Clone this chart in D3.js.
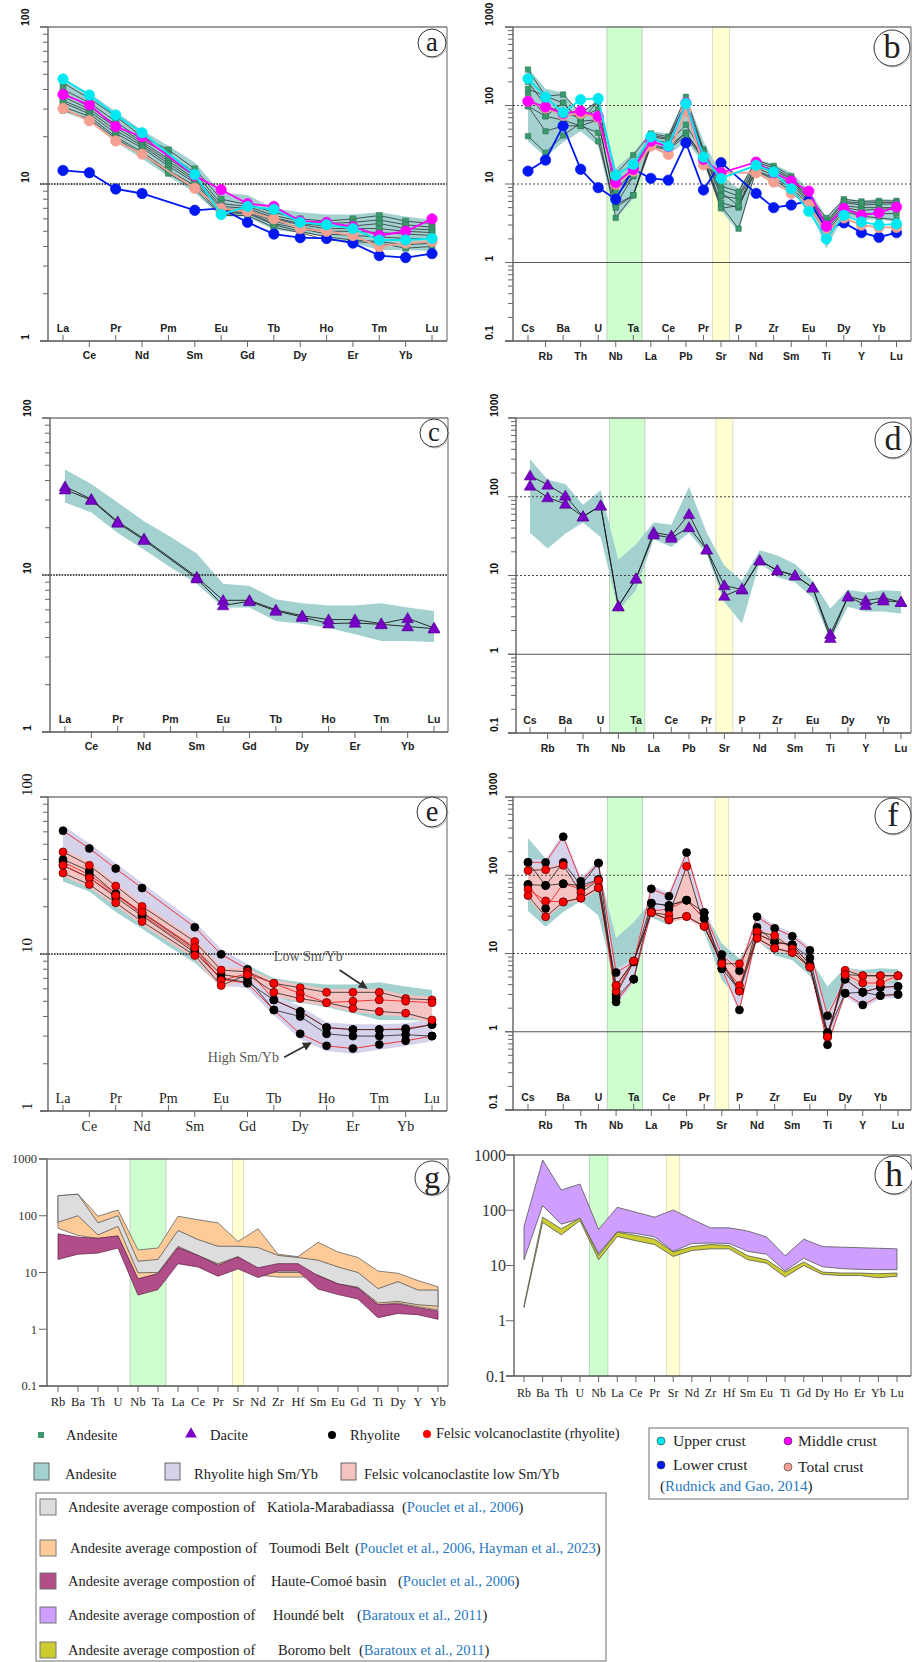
<!DOCTYPE html>
<html>
<head>
<meta charset="utf-8">
<script src="https://cdn.jsdelivr.net/npm/d3@7"></script>
<style>
  body { margin: 0; background: #fff; }
  svg { display: block; }
</style>
</head>
<body>
<script>
// ---- element lists ----
const reeElements = ['La', 'Ce', 'Pr', 'Nd', 'Pm', 'Sm', 'Eu', 'Gd', 'Tb', 'Dy', 'Ho', 'Er', 'Tm', 'Yb', 'Lu'];
const spiderElements = ['Cs', 'Rb', 'Ba', 'Th', 'U', 'Nb', 'Ta', 'La', 'Ce', 'Pb', 'Pr', 'Sr', 'P', 'Nd', 'Zr', 'Sm', 'Eu', 'Ti', 'Dy', 'Y', 'Yb', 'Lu'];
const gElements = ['Rb', 'Ba', 'Th', 'U', 'Nb', 'Ta', 'La', 'Ce', 'Pr', 'Sr', 'Nd', 'Zr', 'Hf', 'Sm', 'Eu', 'Gd', 'Ti', 'Dy', 'Y', 'Yb'];
const hElements = ['Rb', 'Ba', 'Th', 'U', 'Nb', 'La', 'Ce', 'Pr', 'Sr', 'Nd', 'Zr', 'Hf', 'Sm', 'Eu', 'Ti', 'Gd', 'Dy', 'Ho', 'Er', 'Yb', 'Lu'];

// ---- andesite field (teal envelope) ----
const andesiteReeHi = [47, 38, 29, 22, 17.5, 13.7, 8.8, 8.5, 7.0, 6.6, 6.4, 6.4, 6.6, 6.2, 5.9];
const andesiteReeLo = [29, 25, 18.5, 14.5, 11.2, 8.8, 6.2, 6.2, 5.1, 4.9, 4.6, 4.2, 3.8, 3.8, 3.75];
const andesiteSpiderHi = [300, 164, 145, 79, 121, 15.8, 25, 47, 44, 134, 35, 13.4, 8.6, 21, 17.9, 14, 8.6, 3.8, 6.6, 6.1, 6.5, 6.3];
const andesiteSpiderLo = [35, 22, 34, 47, 30.6, 3.6, 6.5, 29, 23, 35, 18.8, 4.6, 2.45, 14.7, 9.5, 8.2, 5.2, 1.5, 4.0, 3.5, 3.5, 3.3];

// ---- andesite samples ----
const andesiteRee = [
  [44, 35, 27, 20, 16.5, 12.5, 8.0, 7.4, 6.6, 6.0, 5.8, 6.0, 6.3, 5.8, 5.6],
  [40, 33, 25, 19, 15.5, 11.8, 7.5, 7.2, 6.3, 5.8, 5.6, 5.7, 5.9, 5.5, 5.3],
  [38, 31, 24, 18.5, 14.5, 11.2, 7.2, 7.0, 6.1, 5.6, 5.4, 5.4, 5.6, 5.2, 5.1],
  [36, 30, 23, 18, 14, 10.8, 7.0, 6.8, 6.0, 5.5, 5.2, 5.2, 5.2, 5.0, 4.9],
  [34, 29, 22, 17.5, 13.5, 10.5, 6.8, 6.7, 5.8, 5.3, 5.0, 5.0, 4.9, 4.8, 4.7],
  [33, 28, 21, 17, 13, 10.2, 6.6, 6.6, 5.6, 5.2, 4.8, 4.7, 4.6, 4.5, 4.5],
  [31, 27, 20, 16, 12.2, 9.8, 6.4, 6.5, 5.5, 5.0, 4.6, 4.4, 4.3, 4.1, 4.2],
  [29.5, 26, 19.5, 15.5, 11.7, 9.3, 6.3, 6.3, 5.3, 4.9, 4.4, 4.3, 4.2, 3.9, 4.0]
];
const andesiteSpider = [
  [287, 131, 138, 80, 113, 13.3, 23.4, 44, 40, 129, 27.6, 9.4, 8.0, 20, 17, 12.6, 7.0, 3.7, 6.4, 6.0, 6.1, 6.1],
  [163, 131, 108, 63, 113, 7.0, 12.6, 40, 37, 100, 25, 7.8, 5.3, 18, 15, 11.5, 6.4, 3.1, 5.8, 5.4, 5.5, 5.6],
  [140, 73, 108, 63, 66, 5.4, 12.6, 38, 33, 57, 24, 7.0, 6.5, 17, 14, 10.9, 6.0, 3.0, 5.3, 5.0, 5.0, 5.0],
  [98, 73, 65, 55, 66, 5.4, 7.2, 35, 30, 45, 22, 5.8, 5.0, 16, 13, 10, 5.8, 2.8, 5.0, 4.6, 4.8, 4.8],
  [98, 47, 55, 55, 45, 3.7, 7.2, 32, 28, 45, 21, 5.3, 2.7, 15, 12, 9, 5.5, 2.6, 4.8, 4.2, 4.2, 4.2],
  [40.7, 25, 41.5, 60, 35, 5.0, 7.2, 30, 27.6, 41, 20.6, 4.9, 5.3, 14.6, 11.5, 8.2, 5.3, 2.4, 4.5, 3.9, 3.7, 3.5],
  [200, 100, 80, 70, 90, 8, 15, 42, 38, 110, 26, 8.5, 7, 19, 16, 11.8, 6.6, 3.3, 6.0, 5.7, 5.8, 5.8]
];

// ---- crust reference (Rudnick and Gao, 2014) ----
const upperCrustRee = [46.7, 36.9, 27.5, 21.2, null, 11.5, 6.4, 7.2, 6.9, 5.7, 5.5, 5.2, 4.4, 4.4, 4.5];
const middleCrustRee = [37.2, 31.9, 23.2, 20, null, 11.3, 9.2, 7.5, 7.2, 5.8, 5.7, 5.35, 4.7, 5.0, 6.0];
const lowerCrustRee = [12.2, 11.8, 9.3, 8.7, null, 6.8, 7.0, 5.7, 4.8, 4.55, 4.5, 4.2, 3.5, 3.4, 3.6];
const totalCrustRee = [30.3, 25.3, 18.8, 15.5, null, 9.4, 7.0, 6.7, 6.0, 5.2, 5.0, 4.7, 4.0, 4.2, 4.3];
const upperCrustSpider = [220, 128, 81, 119, 123, 12.9, 17.8, 40, 30.4, 106, 22, 11.8, null, 17.3, 14.2, 8.7, 4.5, 2.0, 4.0, 3.3, 3.0, 3.1];
const middleCrustSpider = [113, 96, 79, 85, 73, 10.4, 15.4, 35, 30, 108, 20.6, 13.9, null, 19, 13.9, 10.9, 8.1, 2.9, 4.9, 4.0, 4.3, 5.1];
const lowerCrustSpider = [14.6, 20.2, 55, 15.4, 9.0, 6.4, 15.4, 11.8, 11.2, 33.5, 8.4, 18.7, null, 7.6, 5.0, 5.4, 6.1, 2.65, 3.2, 2.4, 2.1, 2.4];
const totalCrustSpider = [113, 93, 75, 79, 70, 9.9, 14.6, 30.4, 23.8, 85, 17.5, 13.9, null, 13.9, 10.6, 7.6, 5.5, 2.45, 3.7, 3.0, 2.8, 2.8];

// ---- dacite ----
const daciteRee = [
  [36.6, 30.4, 21.9, 17, null, 9.7, 6.9, 6.9, 6.0, 5.5, 5.2, 5.2, 4.9, 5.3, 4.6],
  [35, 30, 21.5, 16.7, null, 9.5, 6.4, 6.8, 5.9, 5.4, 4.9, 4.95, 4.85, 4.7, 4.55]
];
const daciteSpider = [
  [185, 142, 103, 56, 77, 4.05, 9.1, 35.4, 32, 60, 21.3, 7.5, 6.6, 15.5, 11.6, 10, 7.0, 1.8, 5.4, 4.8, 5.2, 4.6],
  [138, 98, 81, 56, 77, 4.05, 9.1, 33, 30, 41, 21.3, 5.5, 6.8, 15.5, 11.6, 10, 7.0, 1.6, 5.4, 4.2, 4.8, 4.6]
];

// ---- rhyolite (high Sm/Yb) and felsic volcanoclastite (low Sm/Yb) ----
const rhyoliteRee = [
  [61, 47, 35, 26.3, null, 14.8, 9.95, 8.0, 5.1, 4.3, 3.4, 3.3, 3.3, 3.35, 3.55],
  [40, 33.8, 24.2, 18.3, null, 10.8, 7.4, 7.0, 4.4, 4.0, 3.1, 3.0, 3.0, 3.06, 3.0],
  [38.5, 32, 24.2, 17.8, null, 10.5, 6.9, 6.5, 4.4, 3.1, 2.6, 2.5, 2.65, 2.8, 3.0],
  [36.7, 30.6, 23, 17.5, null, 10.2, 7.0, 6.6, 5.1, 4.3, 3.4, 3.3, 3.3, 3.3, 3.55]
];
const felsicRee = [
  [44.7, 36.7, 27.1, 20.1, null, 12.0, 7.9, 7.7, 6.5, 6.1, 5.7, 5.7, 5.7, 5.2, 5.1],
  [36.7, 30.5, 23.6, 18.5, null, 11, 6.8, 7.5, 6.5, 5.6, 4.9, 5.0, 5.1, 5.0, 4.9],
  [32.8, 27.7, 21.2, 16.1, null, 9.8, 6.3, 7.4, 5.7, 5.2, 4.9, 4.5, 4.3, 4.2, 3.8]
];
const rhyoliteSpider = [
  [146, 146, 311, 84, 143, 5.7, 7.8, 67, 54, 195, 33.4, 9.7, 6.0, 29.5, 21, 16.6, 11, 1.6, 4.7, 3.2, 3.7, 3.8],
  [146, 74, 146, 74, 88, 3.0, 7.8, 43.9, 41, 48, 28, 8, 3.4, 21.6, 14, 12.9, 8.8, 0.97, 4.7, 3.2, 3.7, 3.8],
  [76, 37.6, 78, 67, 88, 2.4, 4.7, 35, 36.8, 48, 28, 6.4, 1.9, 17.8, 14, 12.9, 7.2, 0.68, 3.1, 2.2, 2.9, 3.0],
  [76, 74, 78, 74, 143, 2.7, 4.7, 43.9, 41, 48, 33.4, 6.4, 3.4, 17.8, 14, 12.9, 7.2, 0.97, 3.1, 3.2, 2.9, 3.0]
];
const felsicSpider = [
  [115, 118, 134, 60, 86, 3.9, 8.0, 33.4, 31, 130, 22.3, 7.4, 7.4, 19, 17, 11.5, 6.7, 0.86, 6.1, 5.2, 5.2, 5.2],
  [66, 47, 45.6, 51, 69, 3.3, 8.0, 33.4, 27, 29.8, 22.3, 7.4, 3.9, 15.7, 11.7, 10.3, 6.7, 0.86, 5.4, 4.2, 4.2, 5.2],
  [55, 29.5, 45.6, 51, 69, 3.9, 8.0, 33.4, 27, 29.8, 22.3, 7.4, 3.3, 15.7, 11.7, 10.3, 6.7, 0.86, 5.4, 5.2, 5.2, 5.2]
];

// ---- panel g: literature andesite averages ----
const katiolaHi = [225, 240, 75, 100, 15.8, 17, 55, 38, 29, 29, 27.5, 20, 18.4, 16.5, 12.5, 10, 5.2, 6.9, 4.9, 4.9];
const katiolaLo = [77, 100, 46, 65, 9.9, 10, 29, 20, 14.3, 19, 11.6, 10, 10, 9, 6.3, 5.5, 2.9, 3.1, 2.7, 2.55];
const toumodiHi = [225, 240, 98, 126, 25, 27, 98, 85, 75, 35, 59, 21, 19, 34, 23, 18.4, 10.6, 9.7, 7.2, 5.6];
const toumodiLo = [60, 45, 40, 44, 7.7, 9.5, 27, 20, 13.4, 12, 9, 8.3, 8.3, 8.5, 6.3, 5.3, 2.7, 2.9, 2.5, 2.2];
const comoeHi = [48, 42, 40, 44, 7.7, 9.5, 27.4, 20, 13.4, 18.8, 12.1, 14.3, 14.3, 8.8, 6.3, 5.3, 2.7, 2.8, 2.4, 2.1];
const comoeLo = [17, 21, 22, 27, 4.0, 5.0, 14.3, 12.5, 8.6, 11.6, 8.2, 10.6, 10.6, 5.1, 4.1, 3.4, 1.6, 1.9, 1.8, 1.5];

// ---- panel h ----
const houndeHi = [51, 810, 232, 298, 45, 113, 92, 75, 101, 69, 48, 48, 42, 33, 15, 30, 22, 21.5, 21, 20.5, 20];
const houndeLo = [12.7, 121, 56, 70, 16.4, 41, 38, 33, 18, 25, 25.5, 25, 18, 16, 8, 13.5, 9.5, 8.8, 8.5, 8.4, 8.4];
const boromoHi = [1.9, 75, 46, 72, 15.2, 40, 35, 30, 17.5, 22, 24, 23, 15, 12.7, 7.6, 11.6, 7.6, 7.3, 7.3, 7.1, 7.3];
const boromoLo = [1.74, 60, 36, 65, 12.7, 33.5, 28, 24, 14.6, 18.7, 20, 20, 12.7, 11, 6.2, 10, 6.9, 6.6, 6.6, 6.0, 6.4];

// ---- colours ----
const TEAL = '#a2d1d0', LAVENDER = '#d5d3ec', PINK = '#f6c3c3';
const GREEN_BAND = '#cfffcf', YELLOW_BAND = '#ffffd2';
const SANS = '"Liberation Sans Narrow","Liberation Sans",Arial,sans-serif';
const SERIF = '"Liberation Serif","DejaVu Serif",serif';

const svg = d3.select('body').append('svg').attr('width', 912).attr('height', 1662);

function makePanel(cfg) {
  const g = svg.append('g');
  const x = d3.scalePoint().domain(cfg.elements).range(cfg.xRange);
  const y = d3.scaleLog().domain(cfg.yDomain).range([cfg.bottom, cfg.top]);
  return { g, x, y, cfg };
}

function drawBands(p, greenFrom, greenTo, gPad, yellowAt, yPad) {
  const step = p.x.step();
  p.g.append('rect')
    .attr('x', p.x(greenFrom) - gPad * step).attr('y', p.cfg.top)
    .attr('width', p.x(greenTo) - p.x(greenFrom) + 2 * gPad * step)
    .attr('height', p.cfg.bottom - p.cfg.top)
    .attr('fill', GREEN_BAND).attr('stroke', '#b5c8b5').attr('stroke-width', 0.8);
  p.g.append('rect')
    .attr('x', p.x(yellowAt) - yPad * step).attr('y', p.cfg.top)
    .attr('width', 2 * yPad * step)
    .attr('height', p.cfg.bottom - p.cfg.top)
    .attr('fill', YELLOW_BAND).attr('stroke', '#d8d8b8').attr('stroke-width', 0.8);
}

function drawField(p, hi, lo, fill, stroke) {
  const rows = p.cfg.elements.map((e, i) => ({ e, hi: hi[i], lo: lo[i] }));
  const area = d3.area().x(d => p.x(d.e)).y0(d => p.y(d.lo)).y1(d => p.y(d.hi));
  p.g.append('path').attr('d', area(rows)).attr('fill', fill)
    .attr('stroke', stroke || 'none').attr('stroke-width', 0.8);
}

// envelope of a sample group, a little wider than the samples
function envelope(samples, pad) {
  const hi = samples[0].map((_, i) => d3.max(samples, s => s[i]) * pad);
  const lo = samples[0].map((_, i) => d3.min(samples, s => s[i]) / pad);
  return { hi, lo };
}

function points(p, vals) {
  return p.cfg.elements.map((e, i) => [e, vals[i]]).filter(d => d[1] != null);
}

function drawLine(p, vals, color, width) {
  const line = d3.line().x(d => p.x(d[0])).y(d => p.y(d[1]));
  p.g.append('path').attr('d', line(points(p, vals)))
    .attr('fill', 'none').attr('stroke', color).attr('stroke-width', width);
}

function drawMarks(p, vals, shape, fill, stroke, size) {
  const pts = points(p, vals);
  if (shape === 'circle') {
    p.g.append('g').selectAll('circle').data(pts).join('circle')
      .attr('cx', d => p.x(d[0])).attr('cy', d => p.y(d[1])).attr('r', size)
      .attr('fill', fill).attr('stroke', stroke).attr('stroke-width', 0.7);
  } else {
    const sym = d3.symbol().type(shape === 'square' ? d3.symbolSquare : d3.symbolTriangle).size(size);
    p.g.append('g').selectAll('path').data(pts).join('path')
      .attr('transform', d => `translate(${p.x(d[0])},${p.y(d[1]) + (shape === 'square' ? 0 : 1)})`)
      .attr('d', sym).attr('fill', fill).attr('stroke', stroke).attr('stroke-width', 0.5);
  }
}

function drawFrame(p, o) {
  const c = p.cfg, g = p.g, y = p.y;
  const yb = c.bottom;
  g.append('line').attr('x1', c.left - 8).attr('x2', c.right).attr('y1', c.top).attr('y2', c.top)
    .attr('stroke', '#7a7a7a').attr('stroke-width', 1.3);
  g.append('line').attr('x1', c.right).attr('x2', c.right).attr('y1', c.top).attr('y2', yb)
    .attr('stroke', '#7a7a7a').attr('stroke-width', 1.2);
  g.append('line').attr('x1', c.left).attr('x2', c.left).attr('y1', c.top).attr('y2', yb)
    .attr('stroke', '#555').attr('stroke-width', 1.3);
  g.append('line').attr('x1', c.left - 8).attr('x2', c.right).attr('y1', yb).attr('y2', yb)
    .attr('stroke', '#555').attr('stroke-width', 1.3);

  // y ticks
  y.ticks().forEach(v => {
    const lg = Math.log10(v);
    const major = Math.abs(lg - Math.round(lg)) < 1e-6;
    if (!o.minor && !major) return;
    g.append('line').attr('x1', c.left - (major ? 8 : 5)).attr('x2', c.left)
      .attr('y1', y(v)).attr('y2', y(v)).attr('stroke', '#666').attr('stroke-width', 1);
    if (!major) return;
    const label = v < 1 ? '0.1' : d3.format('d')(v);
    if (o.yStyle === 'rot') {
      g.append('text').attr('transform', `translate(${c.labelX},${y(v) - 1}) rotate(-90)`)
        .attr('text-anchor', 'start').attr('dy', '0.35em')
        .attr('font-family', o.serif ? SERIF : SANS).attr('font-weight', o.serif ? 'normal' : 'bold')
        .attr('font-size', o.serif ? 15 : 10.5).attr('fill', '#111').text(label);
    } else {
      g.append('text').attr('x', c.labelX).attr('y', y(v)).attr('dy', '0.35em')
        .attr('text-anchor', 'end').attr('font-family', SERIF)
        .attr('font-size', o.yFont).attr('fill', '#333').text(label);
    }
  });

  // x ticks and labels
  c.elements.forEach((e, i) => {
    const xx = p.x(e);
    const inner = o.alternate && i % 2 === 0;
    g.append('line').attr('x1', xx).attr('x2', xx).attr('y1', yb).attr('y2', inner ? yb - 6 : yb + 6)
      .attr('stroke', '#666').attr('stroke-width', 1);
    g.append('text').attr('x', xx).attr('y', inner ? yb - 13 : yb + o.outerGap)
      .attr('dy', '0.35em').attr('text-anchor', 'middle')
      .attr('font-family', o.xSerif ? SERIF : SANS).attr('font-weight', o.xSerif ? 'normal' : 'bold')
      .attr('font-size', o.xFont).attr('fill', '#222').text(e);
  });
}

function refLines(p, dotted, solid, heavy) {
  const c = p.cfg;
  dotted.forEach(v => {
    p.g.append('line').attr('x1', c.left - (heavy ? 8 : 0)).attr('x2', c.right).attr('y1', p.y(v)).attr('y2', p.y(v))
      .attr('stroke', heavy ? '#111' : '#444').attr('stroke-width', heavy ? 1.6 : 1)
      .attr('stroke-dasharray', heavy ? '1.6,1.2' : '2,2');
  });
  solid.forEach(v => {
    p.g.append('line').attr('x1', c.left - 8).attr('x2', c.right).attr('y1', p.y(v)).attr('y2', p.y(v))
      .attr('stroke', '#555').attr('stroke-width', 1.2);
  });
}

function letter(cx, cy, r, ch) {
  svg.append('circle').attr('cx', cx + 1).attr('cy', cy + 1).attr('r', r).attr('fill', 'none')
    .attr('stroke', '#bbb').attr('stroke-width', 1);
  svg.append('circle').attr('cx', cx).attr('cy', cy).attr('r', r).attr('fill', '#fff')
    .attr('stroke', '#333').attr('stroke-width', 1);
  svg.append('text').attr('x', cx).attr('y', cy).attr('dy', '0.3em').attr('text-anchor', 'middle')
    .attr('font-family', SERIF).attr('font-size', r * 1.9).attr('fill', '#222').text(ch);
}

const reeOpts = { yStyle: 'rot', minor: true, alternate: true, xFont: 10.5, outerGap: 14 };
const spiderOpts = { yStyle: 'rot', minor: true, alternate: true, xFont: 10.5, outerGap: 15 };

function crust(p, upper, middle, lower, total) {
  [[lower, '#0018f0'], [total, '#f4a090'], [middle, '#ff00ff'], [upper, '#00e8f0']].forEach(([vals, col]) => {
    drawLine(p, vals, col, 1.8);
    drawMarks(p, vals, 'circle', col, col, 5.2);
  });
}

// ===== panel a =====
const pa = makePanel({ elements: reeElements, xRange: [63, 432], yDomain: [1, 100], top: 27, bottom: 341, left: 48, right: 447, labelX: 25 });
drawField(pa, andesiteReeHi, andesiteReeLo, TEAL);
refLines(pa, [10], [], true);
andesiteRee.forEach(s => drawLine(pa, s, '#1a1a1a', 0.7));
andesiteRee.forEach(s => drawMarks(pa, s, 'square', '#3a9a6c', '#2c6e50', 36));
crust(pa, upperCrustRee, middleCrustRee, lowerCrustRee, totalCrustRee);
drawFrame(pa, reeOpts);
letter(432, 43, 14, 'a');

// ===== panel b =====
const pb = makePanel({ elements: spiderElements, xRange: [528, 896.5], yDomain: [0.1, 1000], top: 27, bottom: 341, left: 513, right: 911, labelX: 489 });
drawBands(pb, 'Nb', 'Ta', 0.5, 'Sr', 0.48);
drawField(pb, andesiteSpiderHi, andesiteSpiderLo, TEAL);
refLines(pb, [100, 10], [1], false);
andesiteSpider.forEach(s => drawLine(pb, s, '#1a1a1a', 0.7));
andesiteSpider.forEach(s => drawMarks(pb, s, 'square', '#3a9a6c', '#2c6e50', 30));
crust(pb, upperCrustSpider, middleCrustSpider, lowerCrustSpider, totalCrustSpider);
drawFrame(pb, spiderOpts);
letter(892, 48, 18, 'b');

// ===== panel c =====
const pc = makePanel({ elements: reeElements, xRange: [65, 434], yDomain: [1, 100], top: 418, bottom: 732, left: 50, right: 448, labelX: 27 });
drawField(pc, andesiteReeHi, andesiteReeLo, TEAL);
refLines(pc, [10], [], true);
daciteRee.forEach(s => drawLine(pc, s, '#1a1a1a', 0.9));
daciteRee.forEach(s => drawMarks(pc, s, 'triangle', '#7800c8', '#4a0080', 60));
drawFrame(pc, reeOpts);
letter(434, 433, 14, 'c');

// ===== panel d =====
const pd = makePanel({ elements: spiderElements, xRange: [530, 901], yDomain: [0.1, 1000], top: 418, bottom: 733, left: 516, right: 911, labelX: 494 });
drawBands(pd, 'Nb', 'Ta', 0.5, 'Sr', 0.48);
drawField(pd, andesiteSpiderHi, andesiteSpiderLo, TEAL);
refLines(pd, [100, 10], [1], false);
daciteSpider.forEach(s => drawLine(pd, s, '#1a1a1a', 0.9));
daciteSpider.forEach(s => drawMarks(pd, s, 'triangle', '#7800c8', '#4a0080', 60));
drawFrame(pd, spiderOpts);
letter(893, 440, 18, 'd');

// ===== panel e =====
const pe = makePanel({ elements: reeElements, xRange: [63, 432], yDomain: [1, 100], top: 797, bottom: 1111, left: 48, right: 447, labelX: 27 });
drawField(pe, andesiteReeHi, andesiteReeLo, TEAL);
const rhyEnvRee = envelope(rhyoliteRee.map(s => s.map((v, i) => v == null ? (s[i - 1] * s[i + 1]) ** 0.5 : v)), 1.08);
const felEnvRee = envelope(felsicRee.map(s => s.map((v, i) => v == null ? (s[i - 1] * s[i + 1]) ** 0.5 : v)), 1.05);
drawField(pe, rhyEnvRee.hi, rhyEnvRee.lo, LAVENDER);
drawField(pe, felEnvRee.hi, felEnvRee.lo, PINK);
refLines(pe, [10], [], true);
rhyoliteRee.forEach((s, i) => drawLine(pe, s, i % 2 ? '#222' : '#f01010', 0.8));
felsicRee.forEach((s, i) => drawLine(pe, s, i % 2 ? '#f01010' : '#222', 0.8));
rhyoliteRee.forEach(s => drawMarks(pe, s, 'circle', '#000', '#000', 4));
felsicRee.forEach(s => drawMarks(pe, s, 'circle', '#ff0000', '#500', 4));
drawFrame(pe, { yStyle: 'rot', serif: true, minor: true, alternate: true, xSerif: true, xFont: 14, outerGap: 15 });
letter(432, 812, 15, 'e');

// annotations in e
svg.append('defs').append('marker').attr('id', 'arr').attr('viewBox', '0 0 10 10')
  .attr('refX', 8).attr('refY', 5).attr('markerWidth', 5).attr('markerHeight', 5).attr('orient', 'auto')
  .append('path').attr('d', 'M0,0L10,5L0,10z').attr('fill', '#333');
pe.g.append('text').attr('x', pe.x('Tb')).attr('y', pe.y(9.0)).attr('font-family', SERIF)
  .attr('font-size', 14).attr('fill', '#555').text('Low Sm/Yb');
pe.g.append('line').attr('x1', pe.x('Ho') + 13).attr('y1', pe.y(7.9))
  .attr('x2', (pe.x('Er') + pe.x('Tm')) / 2).attr('y2', pe.y(6.1))
  .attr('stroke', '#333').attr('stroke-width', 1.8).attr('marker-end', 'url(#arr)');
pe.g.append('text').attr('x', pe.x('Sm') + 13).attr('y', pe.y(2.05)).attr('font-family', SERIF)
  .attr('font-size', 14).attr('fill', '#555').text('High Sm/Yb');
pe.g.append('line').attr('x1', pe.x('Dy') - 16).attr('y1', pe.y(2.2))
  .attr('x2', pe.x('Dy') + 10).attr('y2', pe.y(2.7))
  .attr('stroke', '#333').attr('stroke-width', 1.8).attr('marker-end', 'url(#arr)');

// ===== panel f =====
const pf = makePanel({ elements: spiderElements, xRange: [528, 898], yDomain: [0.1, 1000], top: 797, bottom: 1110, left: 513, right: 911, labelX: 493 });
drawBands(pf, 'Nb', 'Ta', 0.5, 'Sr', 0.38);
drawField(pf, andesiteSpiderHi, andesiteSpiderLo, TEAL);
const rhyEnvSp = envelope(rhyoliteSpider, 1.1);
const felEnvSp = envelope(felsicSpider, 1.08);
drawField(pf, rhyEnvSp.hi, rhyEnvSp.lo, LAVENDER);
drawField(pf, felEnvSp.hi, felEnvSp.lo, PINK);
refLines(pf, [100, 10], [1], false);
rhyoliteSpider.forEach((s, i) => drawLine(pf, s, i % 2 ? '#222' : '#f01010', 0.8));
felsicSpider.forEach((s, i) => drawLine(pf, s, i % 2 ? '#f01010' : '#222', 0.8));
rhyoliteSpider.forEach(s => drawMarks(pf, s, 'circle', '#000', '#000', 4));
felsicSpider.forEach(s => drawMarks(pf, s, 'circle', '#ff0000', '#500', 4));
drawFrame(pf, spiderOpts);
letter(893, 816, 18, 'f');

// ===== panel g =====
const pg = makePanel({ elements: gElements, xRange: [58, 438], yDomain: [0.1, 1000], top: 1159, bottom: 1386, left: 47, right: 448, labelX: 37 });
drawBands(pg, 'Nb', 'Ta', 0.4, 'Sr', 0.28);
drawField(pg, toumodiHi, toumodiLo, '#fdca98', '#666');
drawField(pg, katiolaHi, katiolaLo, '#dcdddc', '#555');
drawField(pg, comoeHi, comoeLo, '#b14d88', '#6a2a50');
drawFrame(pg, { yStyle: 'flat', yFont: 12.5, minor: false, alternate: false, xSerif: true, xFont: 12.5, outerGap: 16 });
letter(432, 1178, 17, 'g');

// ===== panel h =====
const ph = makePanel({ elements: hElements, xRange: [524, 897], yDomain: [0.1, 1000], top: 1155, bottom: 1376, left: 514, right: 911, labelX: 506 });
drawBands(ph, 'Nb', 'Nb', 0.5, 'Sr', 0.35);
drawField(ph, houndeHi, houndeLo, '#cf9fff', '#555');
drawField(ph, boromoHi, boromoLo, '#cccc30', '#555');
drawFrame(ph, { yStyle: 'flat', yFont: 16, minor: false, alternate: false, xSerif: true, xFont: 12, outerGap: 17 });
letter(894, 1175, 19, 'h');

// ===== legends =====
const leg = svg.append('g').attr('font-family', SERIF).attr('fill', '#222');
function legText(x, y, parts, size) {
  const t = leg.append('text').attr('x', x).attr('y', y).attr('dy', '0.35em').attr('font-size', size || 14.5);
  parts.forEach(([s, col]) => t.append('tspan').attr('fill', col || '#222').text(s));
}
// marker row
leg.append('rect').attr('x', 38).attr('y', 1432).attr('width', 6).attr('height', 6).attr('fill', '#3a9a6c');
legText(66, 1435, [['Andesite']]);
leg.append('path').attr('transform', 'translate(191,1434)').attr('d', d3.symbol().type(d3.symbolTriangle).size(60)).attr('fill', '#7800c8');
legText(210, 1435, [['Dacite']]);
leg.append('circle').attr('cx', 332).attr('cy', 1435).attr('r', 4).attr('fill', '#000');
legText(350, 1435, [['Rhyolite']]);
leg.append('circle').attr('cx', 427).attr('cy', 1434).attr('r', 4).attr('fill', '#f00');
legText(436, 1433, [['Felsic volcanoclastite (rhyolite)']]);

// field row
[[34, TEAL, 'Andesite', 65], [165, LAVENDER, 'Rhyolite high Sm/Yb', 194], [341, PINK, 'Felsic volcanoclastite low Sm/Yb', 364]]
  .forEach(([x, col, label, tx]) => {
    leg.append('rect').attr('x', x).attr('y', 1463).attr('width', 15).attr('height', 17)
      .attr('fill', col).attr('stroke', '#666').attr('stroke-width', 1);
    legText(tx, 1474, [[label]]);
  });

// crust box
leg.append('rect').attr('x', 649).attr('y', 1428).attr('width', 259).attr('height', 71)
  .attr('fill', 'none').attr('stroke', '#888').attr('stroke-width', 1.2);
[[661, 1441, '#00e8f0', 'Upper crust', 673], [788, 1441, '#ff00ff', 'Middle crust', 798],
 [661, 1465, '#0018f0', 'Lower crust', 673], [788, 1467, '#f4a090', 'Total crust', 798]]
  .forEach(([cx, cy, col, label, tx]) => {
    leg.append('circle').attr('cx', cx).attr('cy', cy).attr('r', 4).attr('fill', col).attr('stroke', '#333').attr('stroke-width', 0.6);
    legText(tx, cy, [[label]], 15.5);
  });
legText(660, 1486, [['('], ['Rudnick and Gao, 2014', '#2878c0'], [')']], 15);

// literature box
leg.append('rect').attr('x', 36).attr('y', 1493).attr('width', 570).attr('height', 168)
  .attr('fill', 'none').attr('stroke', '#888').attr('stroke-width', 1.2);
const litRows = [
  [1507, '#dcdddc', 68, 'Katiola-Marabadiassa', 267, [['('], ['Pouclet et al., 2006', '#2878c0'], [')']], 402],
  [1548, '#fdca98', 70, 'Toumodi Belt', 269, [['('], ['Pouclet et al., 2006, Hayman et al., 2023', '#2878c0'], [')']], 355],
  [1581, '#b14d88', 68, 'Haute-Comoé basin', 271, [['('], ['Pouclet et al., 2006', '#2878c0'], [')']], 398],
  [1615, '#cf9fff', 68, 'Houndé belt', 273, [['('], ['Baratoux et al., 2011', '#2878c0'], [')']], 357],
  [1650, '#cccc30', 68, 'Boromo belt', 278, [['('], ['Baratoux et al., 2011', '#2878c0'], [')']], 359]
];
litRows.forEach(([y, col, tx, name, nx, cite, cx]) => {
  leg.append('rect').attr('x', 40).attr('y', y - 8).attr('width', 16).attr('height', 16)
    .attr('fill', col).attr('stroke', '#777').attr('stroke-width', 1);
  legText(tx, y, [['Andesite average compostion of']]);
  legText(nx, y, [[name]]);
  legText(cx, y, cite);
});
</script>
</body>
</html>
